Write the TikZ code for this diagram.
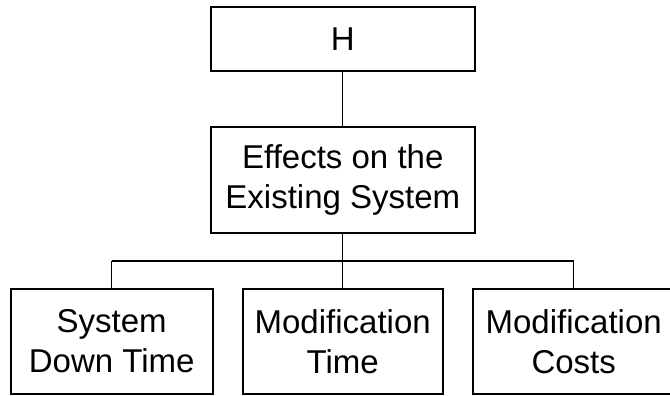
\documentclass[tikz,border=0pt]{standalone}
\usepackage{fontspec}
\setmainfont{Liberation Sans}
\begin{document}
\begin{tikzpicture}[x=1pt,y=-1pt,
  box/.style={draw=black,line width=1.8pt,inner sep=0pt,align=center,
    font=\fontsize{33}{40}\selectfont},
  link/.style={draw=black,line width=1.2pt}]
\useasboundingbox[fill=white] (0,0) rectangle (670,396);
% hierarchy boxes
\node[box,minimum width=264pt,minimum height=64pt] (h) at (342.8,39) {H};
\node[box,minimum width=264pt,minimum height=106pt] (eff) at (342.8,180)
  {Effects on the\\Existing System};
\node[box,minimum width=202pt,minimum height=105pt] (sdt) at (111.7,341.5)
  {System\\Down Time};
\node[box,minimum width=200pt,minimum height=105pt] (mt) at (342.7,341.5)
  {Modification\\Time};
\node[box,minimum width=202pt,minimum height=105pt] (mc) at (573.7,341.5)
  {Modification\\Costs};
% connectors
\coordinate (bus) at (342.8,261);
\draw[link,line width=0.9pt] (h.south) -- (eff.north);
\draw[link] (eff.south) -- (bus);
\draw[link] (sdt.north |- bus) -- (mc.north |- bus);
\draw[link] (sdt.north |- bus) -- (sdt.north);
\draw[link] (mt.north |- bus) -- (mt.north);
\draw[link] (mc.north |- bus) -- (mc.north);
\end{tikzpicture}
\end{document}
